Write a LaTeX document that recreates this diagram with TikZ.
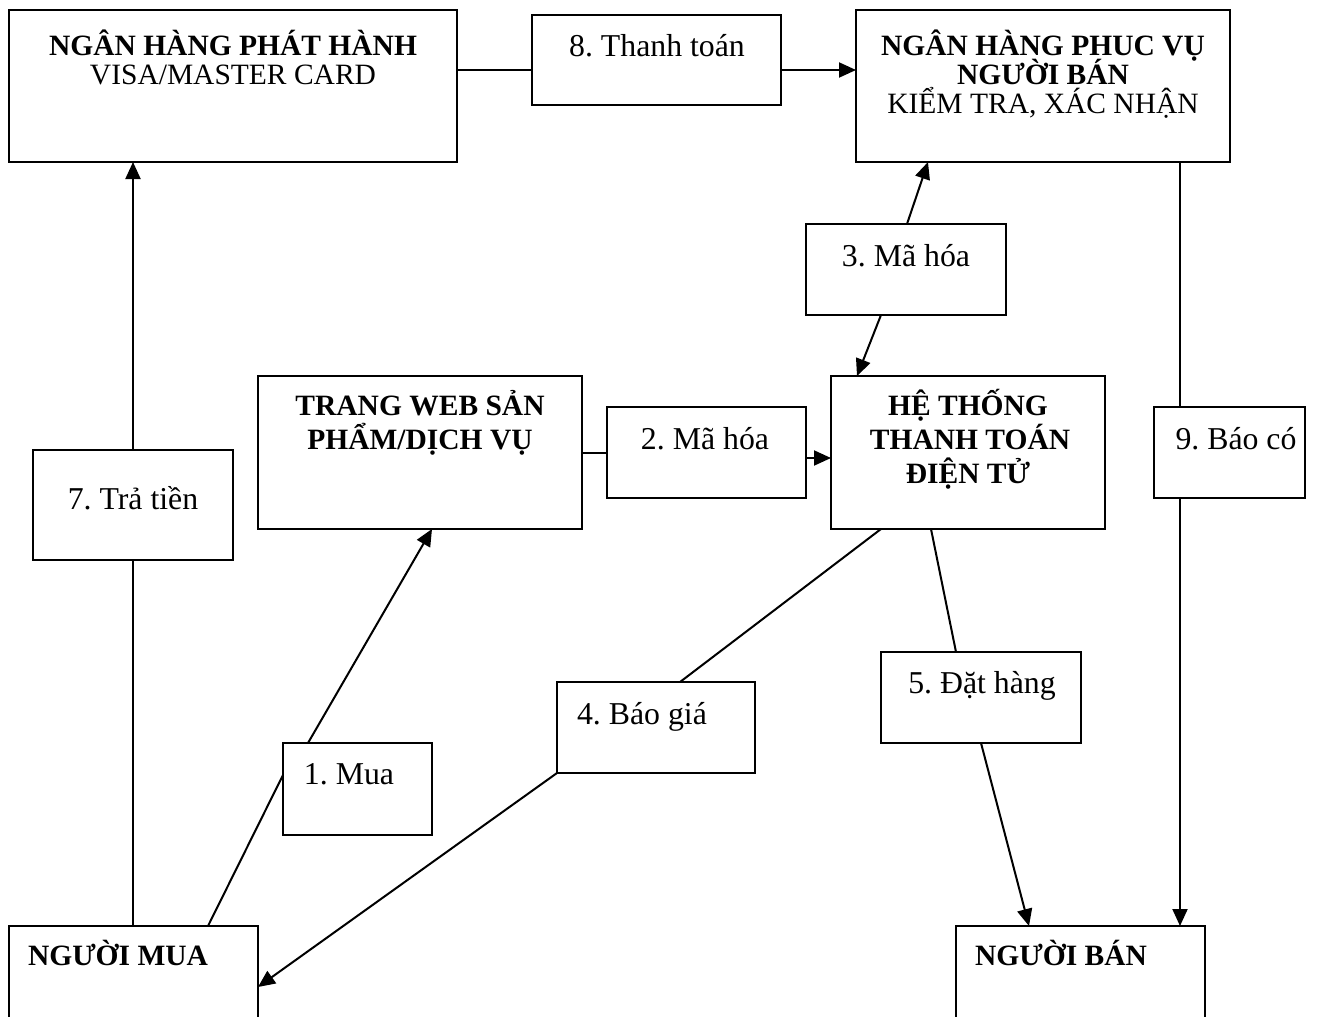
\documentclass[tikz,border=0pt]{standalone}
\usepackage{fontspec}
\setmainfont{Liberation Serif}
\usetikzlibrary{arrows.meta,calc}
\frenchspacing
\begin{document}
\begin{tikzpicture}[x=1pt,y=-1pt,
  every node/.style={inner sep=0pt, outer sep=0pt},
  frame/.style 2 args={draw, line width=2pt, anchor=north west,
    minimum width=#1pt, minimum height=#2pt},
  txt/.style={anchor=base, font=\fontsize{29.5}{31}\selectfont},
  btxt/.style={anchor=base, font=\fontsize{29.5}{31}\selectfont\bfseries},
  stxt/.style={anchor=base, font=\fontsize{31.8}{33}\selectfont},
  conn/.style={line width=2pt},
  arr/.style={conn, -{Triangle[length=17pt,width=15pt]}}]

\useasboundingbox (0,0) rectangle (1331,1017);
\fill[white] (0,0) rectangle (1331,1017);
\clip (0,0) rectangle (1331,1017);

% boxes
\node[frame={448}{152}] (A)  at (9,10)     {};
\node[frame={249}{90}]  (T8) at (532,15)   {};
\node[frame={374}{152}] (B)  at (856,10)   {};
\node[frame={200}{91}]  (T3) at (806,224)  {};
\node[frame={324}{153}] (W)  at (258,376)  {};
\node[frame={199}{91}]  (T2) at (607,407)  {};
\node[frame={274}{153}] (H)  at (831,376)  {};
\node[frame={151}{91}]  (T9) at (1154,407) {};
\node[frame={200}{110}] (T7) at (33,450)   {};
\node[frame={200}{91}]  (T5) at (881,652)  {};
\node[frame={198}{91}]  (T4) at (557,682)  {};
\node[frame={149}{92}]  (T1) at (283,743)  {};
\node[frame={249}{150}] (NM) at (9,926)    {};
\node[frame={249}{150}] (NB) at (956,926)  {};

% texts inside the boxes
\node[btxt] (At1) at (233,55)  {NGÂN HÀNG PHÁT HÀNH};
\node[txt]  (At2) at (233,84)  {VISA/MASTER CARD};
\node[btxt] (Bt1) at (1043,55) {NGÂN HÀNG PHUC VỤ};
\node[btxt] (Bt2) at (1043,84) {NGƯỜI BÁN};
\node[txt]  (Bt3) at (1043,113) {KIỂM TRA, XÁC NHẬN};
\node[btxt] (Wt1) at (420,415) {TRANG WEB SẢN};
\node[btxt] (Wt2) at (420,449) {PHẨM/DỊCH VỤ};
\node[btxt] (Ht1) at (968,415) {HỆ THỐNG};
\node[btxt] (Ht2) at (970,449) {THANH TOÁN};
\node[btxt] (Ht3) at (968,483) {ĐIỆN TỬ};
\node[btxt] (NMt) at (118,965) {NGƯỜI MUA};
\node[btxt] (NBt) at (1061,965) {NGƯỜI BÁN};

% step labels
\node[stxt] (T8t) at (657,56)  {8. Thanh toán};
\node[stxt] (T3t) at (906,266) {3. Mã hóa};
\node[stxt] (T2t) at (705,449) {2. Mã hóa};
\node[stxt] (T9t) at (1236,449) {9. Báo có};
\node[stxt] (T7t) at (133,509) {7. Trả tiền};
\node[stxt] (T5t) at (982,693) {5. Đặt hàng};
\node[stxt] (T4t) at (642,724) {4. Báo giá};
\node[stxt] (T1t) at (349,784) {1. Mua};

% connectors
\draw[conn] ($(A.north east)+(0,60)$) -- ($(T8.north west)+(0,55)$);
\draw[arr]  ($(T8.north east)+(0,55)$) -- ($(B.north west)+(0,60)$);
\draw[conn] ($(B.south west)+(324,0)$) -- ($(T9.north west)+(26,0)$);
\draw[arr]  ($(T9.south west)+(26,0)$) -- ($(NB.north west)+(224,0)$);
\draw[arr]  ($(T3.north west)+(101,0)$) -- ($(B.south west)+(72,0)$);
\draw[arr]  ($(T3.south west)+(75,0)$) -- ($(H.north west)+(26,0)$);
\draw[conn] ($(W.north east)+(0,77)$) -- ($(T2.north west)+(0,46)$);
\draw[arr]  ($(T2.north east)+(0,51)$) -- ($(H.north west)+(0,82)$);
\draw[conn] ($(NM.north west)+(124,0)$) -- ($(T7.south west)+(100,0)$);
\draw[arr]  ($(T7.north west)+(100,0)$) -- ($(A.south west)+(124,0)$);
\draw[conn] ($(NM.north west)+(199,0)$) -- ($(T1.north west)+(0,32)$);
\draw[arr]  ($(T1.north west)+(25,0)$) -- ($(W.south west)+(174,0)$);
\draw[conn] ($(H.south west)+(50,0)$) -- ($(T4.north west)+(123,0)$);
\draw[arr]  (T4.south west) -- ($(NM.north east)+(0,61)$);
\draw[conn] ($(H.south west)+(100,0)$) -- ($(T5.north west)+(75,0)$);
\draw[arr]  ($(T5.south west)+(100,0)$) -- ($(NB.north west)+(73,0)$);
\end{tikzpicture}
\end{document}
